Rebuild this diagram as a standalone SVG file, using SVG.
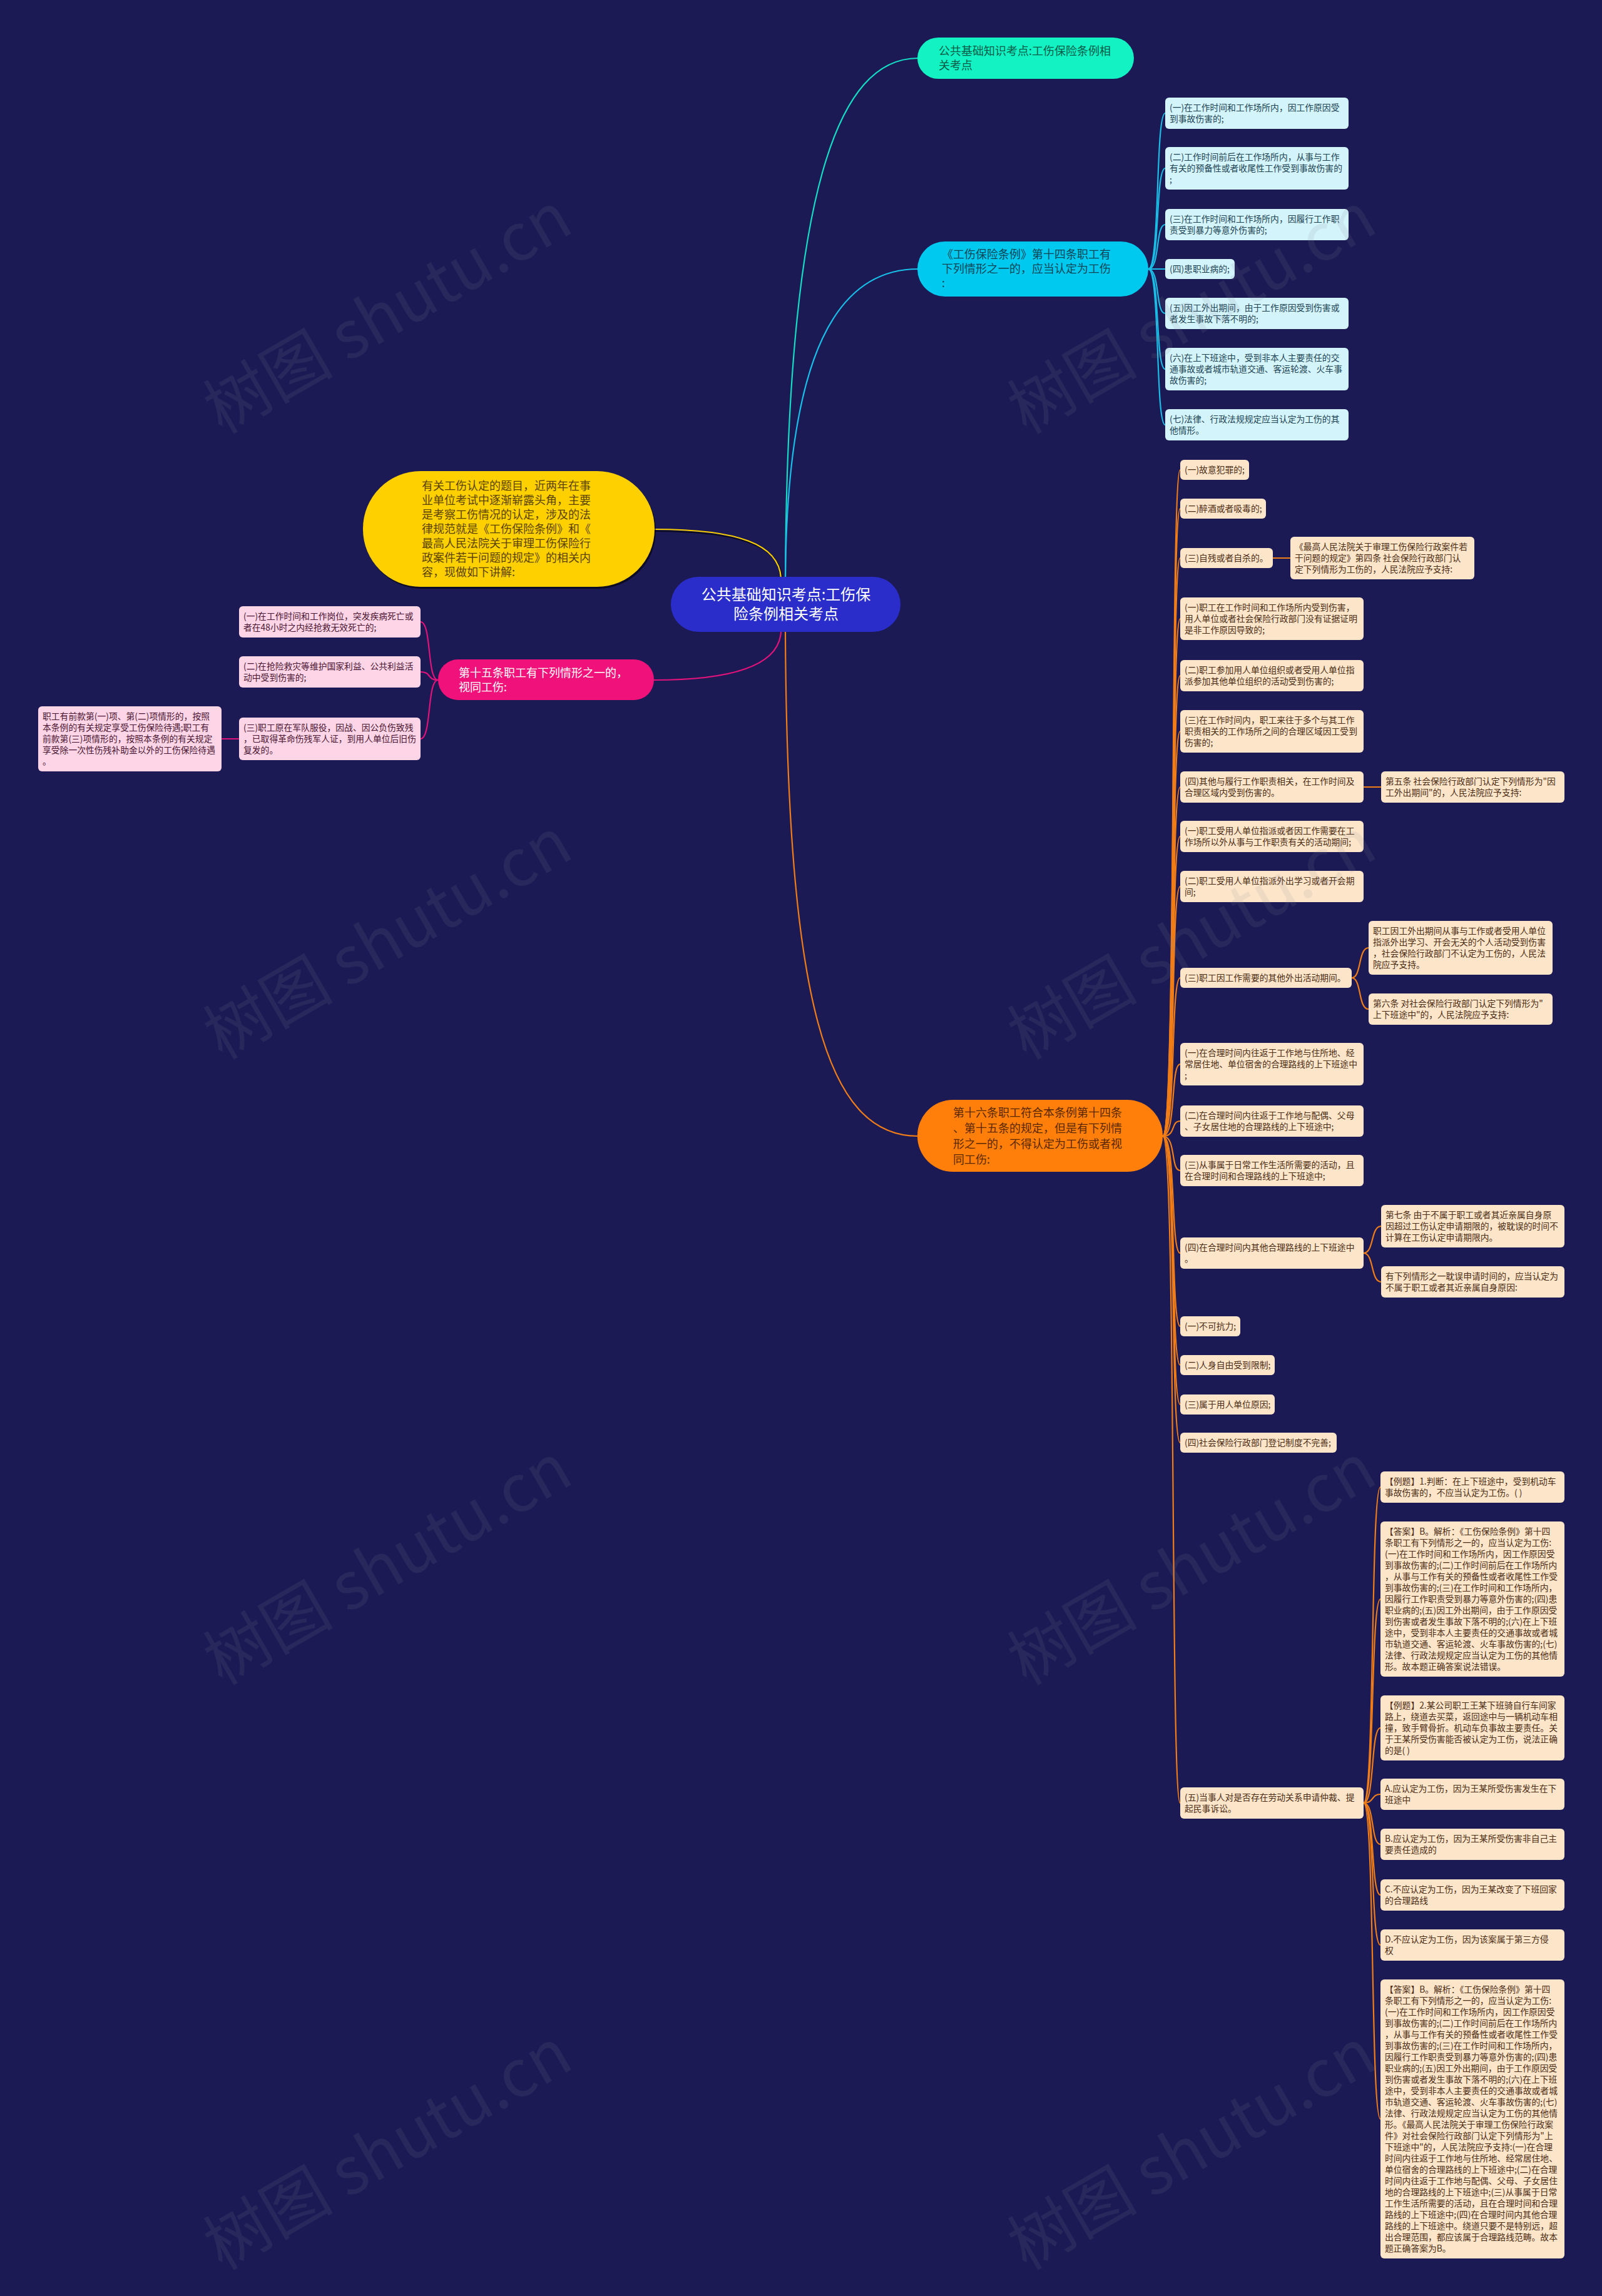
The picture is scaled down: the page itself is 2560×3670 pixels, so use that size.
<svg xmlns="http://www.w3.org/2000/svg" width="2560" height="3670" viewBox="0 0 2560 3670">
<style>
text{font-family:"Noto Sans CJK SC","Noto Sans",sans-serif}
.s{font-size:13.8px}
.m{font-size:18px}
.c{fill:none;stroke-width:2.2;stroke-linecap:round}
.bc{fill:#d3f4fb}.tc{fill:#1d4353}
.bo{fill:#fde5c9}.to{fill:#4b2c14}
.bp{fill:#fed5e6}.tp{fill:#4a1532}
.wm{font-size:104px;fill:#8a8a9a;opacity:0.12}
</style>
<rect x="0" y="0" width="2560" height="3670" fill="#1b1a54"/>
<g id="connectors">
<path class="c" stroke="#16dcc4" stroke-width="2.6" d="M1255,924 C1258,300 1340,93 1467,93"/>
<path class="c" stroke="#19bfe8" stroke-width="2.6" d="M1255,924 C1258,560 1340,430 1467,430"/>
<path class="c" stroke="#000" stroke-opacity="0.6" stroke-width="3" d="M1046,849 C1182,849 1247,873 1250,925"/>
<path class="c" stroke="#f7cc00" stroke-width="2.6" d="M1046,846 C1180,846 1245,870 1248,924"/>
<path class="c" stroke="#e0137a" stroke-width="2.6" d="M1248,1010 C1245,1060 1180,1087 1045,1087"/>
<path class="c" stroke="#f07d18" stroke-width="2.6" d="M1255,1010 C1258,1600 1320,1816 1467,1816"/>
<g stroke="#1bbde6">
<path class="c" d="M1835,430 C1854,430 1846,181 1862,181"/>
<path class="c" d="M1835,430 C1854,430 1846,269 1862,269"/>
<path class="c" d="M1835,430 C1854,430 1846,359 1862,359"/>
<path class="c" d="M1835,430 C1854,430 1846,430 1862,430"/>
<path class="c" d="M1835,430 C1854,430 1846,501 1862,501"/>
<path class="c" d="M1835,430 C1854,430 1846,590 1862,590"/>
<path class="c" d="M1835,430 C1854,430 1846,679 1862,679"/>
</g>
<g stroke="#e0137a">
<path class="c" d="M700,1087 C682,1087 690,994 672,994"/>
<path class="c" d="M700,1087 C682,1087 690,1074 672,1074"/>
<path class="c" d="M700,1087 C682,1087 690,1181 672,1181"/>
<path class="c" d="M382,1181 L354,1181"/>
</g>
<g stroke="#f07d18">
<path class="c" d="M1858,1816 C1880,1816 1870,751 1886,751"/>
<path class="c" d="M1858,1816 C1880,1816 1870,813 1886,813"/>
<path class="c" d="M1858,1816 C1880,1816 1870,892 1886,892"/>
<path class="c" d="M1858,1816 C1880,1816 1870,989 1886,989"/>
<path class="c" d="M1858,1816 C1880,1816 1870,1080 1886,1080"/>
<path class="c" d="M1858,1816 C1880,1816 1870,1169 1886,1169"/>
<path class="c" d="M1858,1816 C1880,1816 1870,1258 1886,1258"/>
<path class="c" d="M1858,1816 C1880,1816 1870,1337 1886,1337"/>
<path class="c" d="M1858,1816 C1880,1816 1870,1417 1886,1417"/>
<path class="c" d="M1858,1816 C1880,1816 1870,1563 1886,1563"/>
<path class="c" d="M1858,1816 C1880,1816 1870,1701 1886,1701"/>
<path class="c" d="M1858,1816 C1880,1816 1870,1792 1886,1792"/>
<path class="c" d="M1858,1816 C1880,1816 1870,1871 1886,1871"/>
<path class="c" d="M1858,1816 C1880,1816 1870,2003 1886,2003"/>
<path class="c" d="M1858,1816 C1880,1816 1870,2120 1886,2120"/>
<path class="c" d="M1858,1816 C1880,1816 1870,2182 1886,2182"/>
<path class="c" d="M1858,1816 C1880,1816 1870,2245 1886,2245"/>
<path class="c" d="M1858,1816 C1880,1816 1870,2306 1886,2306"/>
<path class="c" d="M1858,1816 C1880,1816 1870,2882 1886,2882"/>
<path class="c" d="M2034,892 L2062,892"/>
<path class="c" d="M2179,1258 L2207,1258"/>
<path class="c" d="M2160,1563 C2176,1563 2170,1515 2187,1515"/>
<path class="c" d="M2160,1563 C2176,1563 2170,1613 2187,1613"/>
<path class="c" d="M2179,2003 C2196,2003 2190,1960 2207,1960"/>
<path class="c" d="M2179,2003 C2196,2003 2190,2049 2207,2049"/>
<path class="c" d="M2179,2882 C2197,2882 2190,2377 2206,2377"/>
<path class="c" d="M2179,2882 C2197,2882 2190,2556 2206,2556"/>
<path class="c" d="M2179,2882 C2197,2882 2190,2762 2206,2762"/>
<path class="c" d="M2179,2882 C2197,2882 2190,2868 2206,2868"/>
<path class="c" d="M2179,2882 C2197,2882 2190,2948 2206,2948"/>
<path class="c" d="M2179,2882 C2197,2882 2190,3029 2206,3029"/>
<path class="c" d="M2179,2882 C2197,2882 2190,3109 2206,3109"/>
<path class="c" d="M2179,2882 C2197,2882 2190,3387 2206,3387"/>
</g>
</g>
<g id="root">
<rect x="1072" y="922" width="367" height="88" rx="44" fill="#2a2dc9"/>
<text x="1256" text-anchor="middle" fill="#ffffff" style="font-size:24px"><tspan x="1256" y="959">公共基础知识考点:工伤保</tspan><tspan x="1256" y="990">险条例相关考点</tspan></text>
</g>
<g id="n-mint">
<rect x="1466" y="60" width="346" height="66" rx="33" fill="#12f2c2"/>
<text class="m" fill="#0b5a48"><tspan x="1500" y="88">公共基础知识考点:工伤保险条例相</tspan><tspan x="1500" y="111">关考点</tspan></text>
</g>
<g id="n-cyan">
<rect x="1466" y="386" width="369" height="88" rx="44" fill="#00c9ef"/>
<text class="m" fill="#0d4556"><tspan x="1505" y="413">《工伤保险条例》第十四条职工有</tspan><tspan x="1505" y="436">下列情形之一的，应当认定为工伤</tspan><tspan x="1505" y="459">:</tspan></text>
</g>
<g id="n-yellow">
<rect x="582" y="756" width="466" height="185" rx="92" fill="#000" opacity="0.55"/>
<rect x="580" y="753" width="466" height="185" rx="92" fill="#ffd000"/>
<text class="m" fill="#5a4300"><tspan x="674" y="783">有关工伤认定的题目，近两年在事</tspan><tspan x="674" y="806">业单位考试中逐渐崭露头角，主要</tspan><tspan x="674" y="829">是考察工伤情况的认定，涉及的法</tspan><tspan x="674" y="852">律规范就是《工伤保险条例》和《</tspan><tspan x="674" y="875">最高人民法院关于审理工伤保险行</tspan><tspan x="674" y="898">政案件若干问题的规定》的相关内</tspan><tspan x="674" y="921">容，现做如下讲解:</tspan></text>
</g>
<g id="n-pink">
<rect x="700" y="1054" width="345" height="65" rx="32" fill="#f0117a"/>
<text class="m" fill="#ffffff"><tspan x="733" y="1082">第十五条职工有下列情形之一的，</tspan><tspan x="733" y="1105">视同工伤:</tspan></text>
</g>
<g id="n-orange">
<rect x="1466" y="1758" width="392" height="115" rx="57" fill="#ff7f0a"/>
<text class="m" fill="#5a2800"><tspan x="1523" y="1785">第十六条职工符合本条例第十四条</tspan><tspan x="1523" y="1810">、第十五条的规定，但是有下列情</tspan><tspan x="1523" y="1835">形之一的，不得认定为工伤或者视</tspan><tspan x="1523" y="1860">同工伤:</tspan></text>
</g>
<g id="c1"><rect class="bc" x="1862" y="156" width="293" height="50" rx="6"/><text class="s tc"><tspan x="1869" y="177">(一)在工作时间和工作场所内，因工作原因受</tspan><tspan x="1869" y="195">到事故伤害的;</tspan></text></g>
<g id="c2"><rect class="bc" x="1862" y="235" width="293" height="68" rx="6"/><text class="s tc"><tspan x="1869" y="256">(二)工作时间前后在工作场所内，从事与工作</tspan><tspan x="1869" y="274">有关的预备性或者收尾性工作受到事故伤害的</tspan><tspan x="1869" y="292">;</tspan></text></g>
<g id="c3"><rect class="bc" x="1862" y="334" width="293" height="50" rx="6"/><text class="s tc"><tspan x="1869" y="355">(三)在工作时间和工作场所内，因履行工作职</tspan><tspan x="1869" y="373">责受到暴力等意外伤害的;</tspan></text></g>
<g id="c4"><rect class="bc" x="1862" y="414" width="111" height="32" rx="6"/><text class="s tc"><tspan x="1869" y="435">(四)患职业病的;</tspan></text></g>
<g id="c5"><rect class="bc" x="1862" y="476" width="293" height="50" rx="6"/><text class="s tc"><tspan x="1869" y="497">(五)因工外出期间，由于工作原因受到伤害或</tspan><tspan x="1869" y="515">者发生事故下落不明的;</tspan></text></g>
<g id="c6"><rect class="bc" x="1862" y="556" width="293" height="68" rx="6"/><text class="s tc"><tspan x="1869" y="577">(六)在上下班途中，受到非本人主要责任的交</tspan><tspan x="1869" y="595">通事故或者城市轨道交通、客运轮渡、火车事</tspan><tspan x="1869" y="613">故伤害的;</tspan></text></g>
<g id="c7"><rect class="bc" x="1862" y="654" width="293" height="50" rx="6"/><text class="s tc"><tspan x="1869" y="675">(七)法律、行政法规规定应当认定为工伤的其</tspan><tspan x="1869" y="693">他情形。</tspan></text></g>
<g id="p1"><rect class="bp" x="382" y="969" width="290" height="50" rx="6"/><text class="s tp"><tspan x="389" y="990">(一)在工作时间和工作岗位，突发疾病死亡或</tspan><tspan x="389" y="1008">者在48小时之内经抢救无效死亡的;</tspan></text></g>
<g id="p2"><rect class="bp" x="382" y="1049" width="290" height="50" rx="6"/><text class="s tp"><tspan x="389" y="1070">(二)在抢险救灾等维护国家利益、公共利益活</tspan><tspan x="389" y="1088">动中受到伤害的;</tspan></text></g>
<g id="p3"><rect class="bp" x="382" y="1147" width="290" height="68" rx="6"/><text class="s tp"><tspan x="389" y="1168">(三)职工原在军队服役，因战、因公负伤致残</tspan><tspan x="389" y="1186">，已取得革命伤残军人证，到用人单位后旧伤</tspan><tspan x="389" y="1204">复发的。</tspan></text></g>
<g id="p3a"><rect class="bp" x="61" y="1129" width="293" height="104" rx="6"/><text class="s tp"><tspan x="68" y="1150">职工有前款第(一)项、第(二)项情形的，按照</tspan><tspan x="68" y="1168">本条例的有关规定享受工伤保险待遇;职工有</tspan><tspan x="68" y="1186">前款第(三)项情形的，按照本条例的有关规定</tspan><tspan x="68" y="1204">享受除一次性伤残补助金以外的工伤保险待遇</tspan><tspan x="68" y="1222">。</tspan></text></g>
<g id="o1"><rect class="bo" x="1886" y="735" width="110" height="32" rx="6"/><text class="s to"><tspan x="1893" y="756">(一)故意犯罪的;</tspan></text></g>
<g id="o2"><rect class="bo" x="1886" y="797" width="137" height="32" rx="6"/><text class="s to"><tspan x="1893" y="818">(二)醉酒或者吸毒的;</tspan></text></g>
<g id="o3"><rect class="bo" x="1886" y="876" width="148" height="32" rx="6"/><text class="s to"><tspan x="1893" y="897">(三)自残或者自杀的。</tspan></text></g>
<g id="o3a"><rect class="bo" x="2062" y="858" width="294" height="68" rx="6"/><text class="s to"><tspan x="2069" y="879">《最高人民法院关于审理工伤保险行政案件若</tspan><tspan x="2069" y="897">干问题的规定》第四条 社会保险行政部门认</tspan><tspan x="2069" y="915">定下列情形为工伤的，人民法院应予支持:</tspan></text></g>
<g id="o4"><rect class="bo" x="1886" y="955" width="293" height="68" rx="6"/><text class="s to"><tspan x="1893" y="976">(一)职工在工作时间和工作场所内受到伤害，</tspan><tspan x="1893" y="994">用人单位或者社会保险行政部门没有证据证明</tspan><tspan x="1893" y="1012">是非工作原因导致的;</tspan></text></g>
<g id="o5"><rect class="bo" x="1886" y="1055" width="293" height="50" rx="6"/><text class="s to"><tspan x="1893" y="1076">(二)职工参加用人单位组织或者受用人单位指</tspan><tspan x="1893" y="1094">派参加其他单位组织的活动受到伤害的;</tspan></text></g>
<g id="o6"><rect class="bo" x="1886" y="1135" width="293" height="68" rx="6"/><text class="s to"><tspan x="1893" y="1156">(三)在工作时间内，职工来往于多个与其工作</tspan><tspan x="1893" y="1174">职责相关的工作场所之间的合理区域因工受到</tspan><tspan x="1893" y="1192">伤害的;</tspan></text></g>
<g id="o7"><rect class="bo" x="1886" y="1233" width="293" height="50" rx="6"/><text class="s to"><tspan x="1893" y="1254">(四)其他与履行工作职责相关，在工作时间及</tspan><tspan x="1893" y="1272">合理区域内受到伤害的。</tspan></text></g>
<g id="o7a"><rect class="bo" x="2207" y="1233" width="293" height="50" rx="6"/><text class="s to"><tspan x="2214" y="1254">第五条 社会保险行政部门认定下列情形为"因</tspan><tspan x="2214" y="1272">工外出期间"的，人民法院应予支持:</tspan></text></g>
<g id="o8"><rect class="bo" x="1886" y="1312" width="293" height="50" rx="6"/><text class="s to"><tspan x="1893" y="1333">(一)职工受用人单位指派或者因工作需要在工</tspan><tspan x="1893" y="1351">作场所以外从事与工作职责有关的活动期间;</tspan></text></g>
<g id="o9"><rect class="bo" x="1886" y="1392" width="293" height="50" rx="6"/><text class="s to"><tspan x="1893" y="1413">(二)职工受用人单位指派外出学习或者开会期</tspan><tspan x="1893" y="1431">间;</tspan></text></g>
<g id="o10"><rect class="bo" x="1886" y="1547" width="274" height="32" rx="6"/><text class="s to"><tspan x="1893" y="1568">(三)职工因工作需要的其他外出活动期间。</tspan></text></g>
<g id="o10a"><rect class="bo" x="2187" y="1472" width="294" height="86" rx="6"/><text class="s to"><tspan x="2194" y="1493">职工因工外出期间从事与工作或者受用人单位</tspan><tspan x="2194" y="1511">指派外出学习、开会无关的个人活动受到伤害</tspan><tspan x="2194" y="1529">，社会保险行政部门不认定为工伤的，人民法</tspan><tspan x="2194" y="1547">院应予支持。</tspan></text></g>
<g id="o10b"><rect class="bo" x="2187" y="1588" width="294" height="50" rx="6"/><text class="s to"><tspan x="2194" y="1609">第六条 对社会保险行政部门认定下列情形为"</tspan><tspan x="2194" y="1627">上下班途中"的，人民法院应予支持:</tspan></text></g>
<g id="o11"><rect class="bo" x="1886" y="1667" width="293" height="68" rx="6"/><text class="s to"><tspan x="1893" y="1688">(一)在合理时间内往返于工作地与住所地、经</tspan><tspan x="1893" y="1706">常居住地、单位宿舍的合理路线的上下班途中</tspan><tspan x="1893" y="1724">;</tspan></text></g>
<g id="o12"><rect class="bo" x="1886" y="1767" width="293" height="50" rx="6"/><text class="s to"><tspan x="1893" y="1788">(二)在合理时间内往返于工作地与配偶、父母</tspan><tspan x="1893" y="1806">、子女居住地的合理路线的上下班途中;</tspan></text></g>
<g id="o13"><rect class="bo" x="1886" y="1846" width="293" height="50" rx="6"/><text class="s to"><tspan x="1893" y="1867">(三)从事属于日常工作生活所需要的活动，且</tspan><tspan x="1893" y="1885">在合理时间和合理路线的上下班途中;</tspan></text></g>
<g id="o14"><rect class="bo" x="1886" y="1978" width="293" height="50" rx="6"/><text class="s to"><tspan x="1893" y="1999">(四)在合理时间内其他合理路线的上下班途中</tspan><tspan x="1893" y="2017">。</tspan></text></g>
<g id="o14a"><rect class="bo" x="2207" y="1926" width="293" height="68" rx="6"/><text class="s to"><tspan x="2214" y="1947">第七条 由于不属于职工或者其近亲属自身原</tspan><tspan x="2214" y="1965">因超过工伤认定申请期限的，被耽误的时间不</tspan><tspan x="2214" y="1983">计算在工伤认定申请期限内。</tspan></text></g>
<g id="o14b"><rect class="bo" x="2207" y="2024" width="293" height="50" rx="6"/><text class="s to"><tspan x="2214" y="2045">有下列情形之一耽误申请时间的，应当认定为</tspan><tspan x="2214" y="2063">不属于职工或者其近亲属自身原因:</tspan></text></g>
<g id="o15"><rect class="bo" x="1886" y="2104" width="96" height="32" rx="6"/><text class="s to"><tspan x="1893" y="2125">(一)不可抗力;</tspan></text></g>
<g id="o16"><rect class="bo" x="1886" y="2166" width="151" height="32" rx="6"/><text class="s to"><tspan x="1893" y="2187">(二)人身自由受到限制;</tspan></text></g>
<g id="o17"><rect class="bo" x="1886" y="2229" width="151" height="32" rx="6"/><text class="s to"><tspan x="1893" y="2250">(三)属于用人单位原因;</tspan></text></g>
<g id="o18"><rect class="bo" x="1886" y="2290" width="250" height="32" rx="6"/><text class="s to"><tspan x="1893" y="2311">(四)社会保险行政部门登记制度不完善;</tspan></text></g>
<g id="o19"><rect class="bo" x="1886" y="2857" width="293" height="50" rx="6"/><text class="s to"><tspan x="1893" y="2878">(五)当事人对是否存在劳动关系申请仲裁、提</tspan><tspan x="1893" y="2896">起民事诉讼。</tspan></text></g>
<g id="q1"><rect class="bo" x="2206" y="2352" width="294" height="50" rx="6"/><text class="s to"><tspan x="2213" y="2373">【例题】1.判断：在上下班途中，受到机动车</tspan><tspan x="2213" y="2391">事故伤害的，不应当认定为工伤。( )</tspan></text></g>
<g id="q2"><rect class="bo" x="2206" y="2432" width="294" height="248" rx="6"/><text class="s to"><tspan x="2213" y="2453">【答案】B。解析：《工伤保险条例》第十四</tspan><tspan x="2213" y="2471">条职工有下列情形之一的，应当认定为工伤:</tspan><tspan x="2213" y="2489">(一)在工作时间和工作场所内，因工作原因受</tspan><tspan x="2213" y="2507">到事故伤害的;(二)工作时间前后在工作场所内</tspan><tspan x="2213" y="2525">，从事与工作有关的预备性或者收尾性工作受</tspan><tspan x="2213" y="2543">到事故伤害的;(三)在工作时间和工作场所内，</tspan><tspan x="2213" y="2561">因履行工作职责受到暴力等意外伤害的;(四)患</tspan><tspan x="2213" y="2579">职业病的;(五)因工外出期间，由于工作原因受</tspan><tspan x="2213" y="2597">到伤害或者发生事故下落不明的;(六)在上下班</tspan><tspan x="2213" y="2615">途中，受到非本人主要责任的交通事故或者城</tspan><tspan x="2213" y="2633">市轨道交通、客运轮渡、火车事故伤害的;(七)</tspan><tspan x="2213" y="2651">法律、行政法规规定应当认定为工伤的其他情</tspan><tspan x="2213" y="2669">形。故本题正确答案说法错误。</tspan></text></g>
<g id="q3"><rect class="bo" x="2206" y="2710" width="294" height="104" rx="6"/><text class="s to"><tspan x="2213" y="2731">【例题】2.某公司职工王某下班骑自行车间家</tspan><tspan x="2213" y="2749">路上，绕道去买菜，返回途中与一辆机动车相</tspan><tspan x="2213" y="2767">撞，致手臂骨折。机动车负事故主要责任。关</tspan><tspan x="2213" y="2785">于王某所受伤害能否被认定为工伤，说法正确</tspan><tspan x="2213" y="2803">的是( )</tspan></text></g>
<g id="q4"><rect class="bo" x="2206" y="2843" width="294" height="50" rx="6"/><text class="s to"><tspan x="2213" y="2864">A.应认定为工伤，因为王某所受伤害发生在下</tspan><tspan x="2213" y="2882">班途中</tspan></text></g>
<g id="q5"><rect class="bo" x="2206" y="2923" width="294" height="50" rx="6"/><text class="s to"><tspan x="2213" y="2944">B.应认定为工伤，因为王某所受伤害非自己主</tspan><tspan x="2213" y="2962">要责任造成的</tspan></text></g>
<g id="q6"><rect class="bo" x="2206" y="3004" width="294" height="50" rx="6"/><text class="s to"><tspan x="2213" y="3025">C.不应认定为工伤，因为王某改变了下班回家</tspan><tspan x="2213" y="3043">的合理路线</tspan></text></g>
<g id="q7"><rect class="bo" x="2206" y="3084" width="294" height="50" rx="6"/><text class="s to"><tspan x="2213" y="3105">D.不应认定为工伤，因为该案属于第三方侵</tspan><tspan x="2213" y="3123">权</tspan></text></g>
<g id="q8"><rect class="bo" x="2206" y="3164" width="294" height="446" rx="6"/><text class="s to"><tspan x="2213" y="3185">【答案】B。解析：《工伤保险条例》第十四</tspan><tspan x="2213" y="3203">条职工有下列情形之一的，应当认定为工伤:</tspan><tspan x="2213" y="3221">(一)在工作时间和工作场所内，因工作原因受</tspan><tspan x="2213" y="3239">到事故伤害的;(二)工作时间前后在工作场所内</tspan><tspan x="2213" y="3257">，从事与工作有关的预备性或者收尾性工作受</tspan><tspan x="2213" y="3275">到事故伤害的;(三)在工作时间和工作场所内，</tspan><tspan x="2213" y="3293">因履行工作职责受到暴力等意外伤害的;(四)患</tspan><tspan x="2213" y="3311">职业病的;(五)因工外出期间，由于工作原因受</tspan><tspan x="2213" y="3329">到伤害或者发生事故下落不明的;(六)在上下班</tspan><tspan x="2213" y="3347">途中，受到非本人主要责任的交通事故或者城</tspan><tspan x="2213" y="3365">市轨道交通、客运轮渡、火车事故伤害的;(七)</tspan><tspan x="2213" y="3383">法律、行政法规规定应当认定为工伤的其他情</tspan><tspan x="2213" y="3401">形。《最高人民法院关于审理工伤保险行政案</tspan><tspan x="2213" y="3419">件》对社会保险行政部门认定下列情形为"上</tspan><tspan x="2213" y="3437">下班途中"的，人民法院应予支持:(一)在合理</tspan><tspan x="2213" y="3455">时间内往返于工作地与住所地、经常居住地、</tspan><tspan x="2213" y="3473">单位宿舍的合理路线的上下班途中;(二)在合理</tspan><tspan x="2213" y="3491">时间内往返于工作地与配偶、父母、子女居住</tspan><tspan x="2213" y="3509">地的合理路线的上下班途中;(三)从事属于日常</tspan><tspan x="2213" y="3527">工作生活所需要的活动，且在合理时间和合理</tspan><tspan x="2213" y="3545">路线的上下班途中;(四)在合理时间内其他合理</tspan><tspan x="2213" y="3563">路线的上下班途中。绕道只要不是特别远，超</tspan><tspan x="2213" y="3581">出合理范围，都应该属于合理路线范畴。故本</tspan><tspan x="2213" y="3599">题正确答案为B。</tspan></text></g>
<g id="watermarks">
<text class="wm" transform="translate(355,695) rotate(-30)">树图 shutu.cn</text>
<text class="wm" transform="translate(1640,695) rotate(-30)">树图 shutu.cn</text>
<text class="wm" transform="translate(355,1695) rotate(-30)">树图 shutu.cn</text>
<text class="wm" transform="translate(1640,1695) rotate(-30)">树图 shutu.cn</text>
<text class="wm" transform="translate(355,2695) rotate(-30)">树图 shutu.cn</text>
<text class="wm" transform="translate(1640,2695) rotate(-30)">树图 shutu.cn</text>
<text class="wm" transform="translate(355,3630) rotate(-30)">树图 shutu.cn</text>
<text class="wm" transform="translate(1640,3630) rotate(-30)">树图 shutu.cn</text>
</g>
</svg>
